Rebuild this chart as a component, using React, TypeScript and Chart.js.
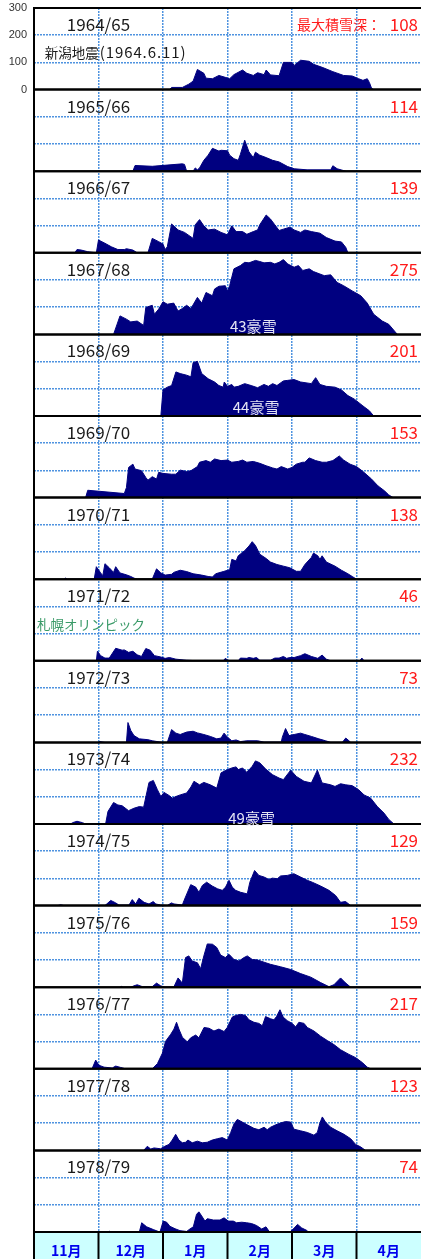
import React, { useEffect, useRef } from 'react';
import { Chart, registerables } from 'chart.js';

Chart.register(...registerables);

// Season labels, maximum snow depth (cm), month labels, y tick values
const seasons = ['1964/65', '1965/66', '1966/67', '1967/68', '1968/69', '1969/70', '1970/71', '1971/72', '1972/73', '1973/74', '1974/75', '1975/76', '1976/77', '1977/78', '1978/79'];
const maxDepths = [108, 114, 139, 275, 201, 153, 138, 46, 73, 232, 129, 159, 217, 123, 74];
const months = ['11月', '12月', '1月', '2月', '3月', '4月'];
const yTickValues = [0, 100, 200, 300];

// Daily snow depth: [day since Nov 1 (30-day months), depth cm]
const s1964 = [[63,0],[64,8],[69,8],[72,20],[74,31],[76,74],[79,60],[80,42],[83,40],[86,52],[89,45],[91,40],[93,55],[97,72],[99,60],[102,52],[104,62],[107,55],[108,72],[110,54],[114,51],[116,100],[120,100],[121,89],[124,108],[128,104],[130,93],[134,82],[139,66],[144,52],[148,50],[151,40],[153,34],[155,40],[156,26],[157,5],[158,0]];
const s1965 = [[46,0],[47,21],[55,18],[69,27],[70,25],[71,0],[74,0],[75,12],[76,5],[77,12],[79,40],[81,59],[83,84],[86,74],[87,77],[90,75],[91,59],[93,46],[95,40],[96,62],[98,114],[100,71],[102,50],[103,70],[105,59],[108,50],[111,40],[114,34],[118,17],[121,9],[127,5],[138,5],[139,20],[141,9],[145,0]];
const s1966 = [[19,0],[20,12],[22,10],[25,4],[29,0],[30,47],[33,35],[36,22],[39,12],[42,12],[43,15],[46,10],[48,0],[53,0],[55,53],[58,41],[60,32],[61,12],[62,22],[64,106],[67,84],[70,75],[74,53],[75,103],[77,122],[79,99],[81,84],[84,87],[87,75],[90,66],[92,99],[94,78],[97,78],[99,68],[102,78],[104,84],[105,103],[108,139],[110,124],[112,103],[114,82],[116,87],[119,94],[121,84],[124,75],[126,84],[129,78],[133,72],[136,56],[140,43],[143,40],[145,20],[146,0]];
const s1967 = [[37,0],[40,68],[43,56],[45,46],[48,49],[51,33],[52,99],[55,107],[56,74],[58,93],[60,120],[62,111],[65,115],[67,86],[69,95],[71,107],[73,95],[76,136],[78,115],[80,154],[83,142],[84,167],[86,177],[89,179],[90,160],[91,179],[93,241],[96,253],[98,265],[100,263],[103,272],[105,268],[107,263],[110,265],[112,259],[114,265],[116,275],[118,259],[121,247],[123,253],[125,235],[128,241],[130,231],[133,222],[135,216],[138,219],[141,191],[144,179],[148,160],[152,142],[155,115],[158,74],[162,49],[165,37],[169,0]];
const s1968 = [[59,0],[60,96],[62,106],[64,112],[66,162],[68,156],[71,150],[73,144],[74,196],[76,201],[78,156],[81,137],[84,125],[86,112],[88,106],[88.5,125],[90,109],[92,116],[93,106],[95,109],[98,119],[101,112],[104,104],[107,116],[109,109],[111,119],[113,112],[116,129],[118,131],[121,134],[124,125],[129,119],[131,141],[133,116],[136,109],[140,106],[143,96],[146,75],[149,62],[153,37],[156,19],[158,0]];
const s1969 = [[24,0],[25,27],[42,15],[43,37],[44,111],[46,123],[47,105],[50,99],[52,74],[53,64],[55,77],[57,68],[58,93],[60,89],[64,86],[66,86],[68,101],[71,96],[73,99],[76,114],[77,130],[80,136],[82,130],[84,142],[87,136],[90,138],[92,130],[95,133],[97,138],[99,130],[102,133],[105,126],[108,117],[111,109],[113,105],[115,114],[118,105],[120,111],[122,123],[125,130],[126,130],[128,146],[131,136],[134,130],[136,130],[139,136],[142,153],[144,138],[147,123],[150,114],[153,96],[157,68],[160,43],[163,25],[165,10],[167,0]];
const s1970 = [[14,0],[14.7,4],[15.5,0],[28,0],[29,46],[31,23],[32,13],[33,57],[35,42],[37,25],[38,46],[40,23],[43,16],[45,10],[46.5,4],[48,0],[55,0],[57,38],[59,23],[61,15],[64,18],[65,25],[68,33],[71,28],[74,20],[78,15],[81,10],[83,8],[84.5,20],[88,28],[91,35],[92,73],[94,67],[95,86],[98,105],[100,122],[101.5,138],[103,124],[105,92],[108,76],[110,63],[113,54],[116,48],[119,42],[122,29],[124,29],[126,54],[129,80],[130,96],[132,86],[133,73],[134,86],[136,63],[140,48],[143,33],[146,20],[148,10],[150,0]];
const s1971 = [[29,0],[29.5,35],[31,19],[33,10],[35,10],[38,46],[41,39],[42,40],[44,31],[46,35],[48,22],[50,16],[52,45],[54,39],[56,19],[59,14],[61,9],[63,12],[66,6],[71,2],[77,0],[88,0],[89,9],[90.5,0],[95,0],[96,10],[99,9],[100,12],[102,9],[103.5,12],[105,2],[110,2],[112,10],[114,10],[116,16],[117.5,9],[119,12],[121,12],[124,19],[126,26],[129,16],[132,9],[134,21],[136,6],[138,0],[151.5,0],[152.5,10],[153.5,0]];
const s1972 = [[30,0],[30.5,3],[33,0],[43,0],[43.7,73],[45,44],[46.5,25],[49,13],[53,10],[55,6],[59.7,0],[62,0],[64,47],[66,34],[68,29],[71,38],[74,41],[76,35],[79,29],[82,22],[85,13],[87,16],[88.4,34],[90,19],[92,6],[94,9],[96,3],[99,6],[104,6],[107,1],[115,1],[115.5,19],[117,51],[118.6,25],[121,29],[124,34],[126,29],[129,22],[132.5,13],[135.6,6],[138,0],[143.4,0],[145,16],[146.5,6],[147.3,0]];
const s1973 = [[17,0],[18,5],[20,10],[22.5,5],[24,0],[33.3,0],[34.4,46],[37,79],[39,70],[41,67],[44,49],[46.5,58],[49,64],[51,62],[53.5,153],[55.5,160],[57.4,126],[59,101],[60.5,116],[63,104],[64.3,95],[66,101],[68,107],[71,114],[73,136],[74.4,157],[77,144],[79,153],[82,144],[85,132],[87,188],[90,200],[92,206],[94,210],[95,200],[97,206],[99,190],[101.5,212],[103,232],[105,225],[108,200],[111,181],[114,169],[116,163],[119.4,198],[122,175],[125.6,157],[129,151],[131.8,198],[134,151],[138,144],[140,138],[142.6,148],[145,144],[148,141],[151,126],[153.5,107],[156.6,95],[159.7,64],[162.8,40],[165,17],[167.4,0]];
const s1974 = [[11,0],[12.4,3],[14,0],[33,0],[35.7,19],[38,10],[39.5,2],[44.2,2],[45.7,22],[47.3,6],[48.8,27],[51.2,12],[53.5,6],[55.5,15],[56.6,6],[58.9,2],[62,0],[63.9,10],[65.1,6],[69,2],[69.8,19],[72.9,77],[75.2,68],[76.7,49],[78.3,74],[80.3,86],[82.9,72],[85.3,62],[87.6,56],[89.1,68],[90.7,93],[92.2,68],[93.8,56],[96.1,49],[99.2,43],[100.4,86],[102.6,129],[104.6,111],[107,105],[109.3,96],[110.8,101],[113.2,99],[114.7,109],[117.8,111],[120.9,117],[124,105],[127.1,93],[129.4,86],[133.3,72],[137.2,56],[140.3,37],[142.6,12],[144.9,15],[147.3,0]];
const s1975 = [[40,0],[40.6,3],[41.5,0],[45,0],[46.5,5],[48,9],[50.4,2],[55,2],[57,15],[58.9,5],[61,0],[65,0],[67,34],[69,15],[70.5,109],[72,115],[73.6,96],[76,90],[77.5,68],[79,115],[80.6,159],[83,158],[85,146],[86.8,118],[89,109],[90.7,121],[93,102],[95.3,96],[97.7,109],[99.2,115],[101.5,102],[104,100],[107,92],[110,84],[114.7,75],[119.4,65],[124,50],[128.7,37],[133.3,17],[137.2,2],[139.5,9],[142.6,34],[145,15],[147.3,0]];
const s1976 = [[27,0],[28.7,32],[30.2,13],[32.6,6],[36.4,3],[38,10],[40.3,5],[42.6,0],[55,0],[57.4,19],[59.7,57],[61.2,101],[63.6,127],[65.1,146],[66.3,171],[67.4,146],[69,116],[71.3,99],[72.9,114],[75.2,124],[76.7,114],[79.1,152],[81.4,149],[83.7,139],[86,146],[88.4,137],[89.9,152],[92.2,190],[93.8,196],[96.1,200],[98.4,196],[100,180],[102.3,171],[104.6,167],[106.2,158],[107.7,192],[110,184],[111.6,180],[112.8,192],[114.4,217],[115.9,190],[117.8,177],[120.1,167],[121.7,154],[123.2,171],[125.6,167],[127.1,152],[130.2,139],[133.3,120],[136.4,104],[139.5,89],[142.6,70],[146.5,53],[149.6,41],[152.7,23],[155,6],[156.6,0]];
const s1977 = [[51,0],[52.7,15],[54.3,5],[55.8,9],[58.9,6],[60.8,15],[62.8,22],[64.3,38],[65.9,59],[67.4,38],[69,28],[70.5,30],[71.6,38],[73.6,28],[76,34],[78.3,28],[80.6,30],[82.9,38],[85.3,43],[87.6,47],[89.9,38],[91.5,66],[93,97],[94.6,114],[96.9,104],[99.2,94],[102.3,81],[104.6,76],[107,85],[108.5,76],[110,85],[112.4,94],[114.7,101],[117,106],[119.4,104],[120.9,78],[124,72],[127.1,66],[130.2,56],[131.8,66],[133,101],[134.1,123],[135.6,104],[138,85],[141,72],[144.2,59],[147.3,43],[149.6,22],[151.9,13],[154.2,0]];
const s1978 = [[34.5,0],[35.3,3],[36,0],[49,0],[50.1,34],[52.4,19],[55.5,9],[57.8,2],[58.6,0],[60.1,40],[61.7,36],[63.2,21],[65.6,12],[67.9,5],[71,2],[72.5,11],[74.1,19],[75.6,65],[76.7,74],[78,59],[79.5,40],[80.6,49],[83.4,44],[86.5,44],[88.4,52],[90.4,40],[92.7,40],[94.2,34],[96.6,36],[98.9,34],[101.2,31],[103.5,24],[105.9,11],[107.9,19],[109.4,2],[110,0],[119,0],[120.6,11],[122.6,28],[124.5,15],[126.8,6],[127.6,0]];

const series = [s1964, s1965, s1966, s1967, s1968, s1969, s1970, s1971, s1972, s1973, s1974, s1975, s1976, s1977, s1978];

// Annotations
const notes = [
  { panel: 0, text: '新潟地震', sub: '(1964.6.11)' },
  { panel: 7, text: '札幌オリンピック', sub: '' },
  { panel: 3, text: '43豪雪', sub: '' },
  { panel: 4, text: '44豪雪', sub: '' },
  { panel: 9, text: '49豪雪', sub: '' },
];

const FONT = "'Noto Sans CJK JP', 'Noto Sans', sans-serif";
const GRID_BLUE = '#4f93e0';
const N = seasons.length;

const panelPlugin = {
  id: 'panelDecor',
  beforeDraw(chart: any) {
    const xs = chart.scales.x;
    const ctx = chart.ctx;
    ctx.save();
    ctx.fillStyle = '#ccffff';
    ctx.fillRect(xs.left, xs.top, xs.right - xs.left, xs.bottom - xs.top);
    ctx.restore();
  },
  afterDatasetsDraw(chart: any) {
    const ctx = chart.ctx;
    const xs = chart.scales.x;
    const area = chart.chartArea;
    const line = (x1: number, y1: number, x2: number, y2: number) => {
      ctx.beginPath();
      ctx.moveTo(x1, y1);
      ctx.lineTo(x2, y2);
      ctx.stroke();
    };
    ctx.save();
    ctx.strokeStyle = '#000';
    ctx.lineWidth = 2;
    for (let i = 0; i < N; i++) {
      const ys = chart.scales['y' + i];
      line(area.left, ys.top, area.right, ys.top);
      line(area.left, ys.bottom, area.right, ys.bottom);
    }
    line(area.left, area.top - 1, area.left, xs.bottom);
    for (let k = 1; k < months.length; k++) {
      const px = xs.getPixelForValue(k * 30);
      line(px, xs.top, px, xs.bottom);
    }

    // season labels and max depth
    ctx.textBaseline = 'middle';
    for (let i = 0; i < N; i++) {
      const ys = chart.scales['y' + i];
      const ty = ys.top + 16.5;
      ctx.font = `17px ${FONT}`;
      ctx.fillStyle = '#1a1a1a';
      ctx.textAlign = 'center';
      ctx.fillText(seasons[i], xs.getPixelForValue(30), ty);
      ctx.fillStyle = '#ff1a1a';
      ctx.textAlign = 'right';
      ctx.fillText(String(maxDepths[i]), area.right - 3, ty);
      if (i === 0) {
        ctx.font = `14px ${FONT}`;
        ctx.fillText('最大積雪深：', 381, ty);
      }
    }

    // annotations
    for (const n of notes) {
      const ys = chart.scales['y' + n.panel];
      if (n.panel === 0) {
        ctx.font = `13.5px ${FONT}`;
        ctx.fillStyle = '#1a1a1a';
        ctx.textAlign = 'left';
        const x0 = xs.getPixelForValue(5);
        const y0 = ys.getPixelForValue(136);
        ctx.fillText(n.text, x0, y0);
        const w = ctx.measureText(n.text).width;
        ctx.font = `15px ${FONT}`;
        try { (ctx as any).letterSpacing = '0.9px'; } catch (e) { /* ignore */ }
        ctx.fillText(n.sub, x0 + w + 1, y0);
        try { (ctx as any).letterSpacing = '0px'; } catch (e) { /* ignore */ }
      } else if (n.panel === 7) {
        ctx.font = `13.5px ${FONT}`;
        ctx.fillStyle = '#3a9a68';
        ctx.textAlign = 'left';
        ctx.fillText(n.text, xs.getPixelForValue(1.4), ys.getPixelForValue(131));
      } else {
        ctx.font = `15px ${FONT}`;
        ctx.fillStyle = '#e4e4f4';
        ctx.textAlign = 'center';
        const yv = n.panel === 9 ? 22 : 31;
        const xv = n.panel === 3 ? 102 : n.panel === 4 ? 103.3 : 101.2;
        ctx.fillText(n.text, xs.getPixelForValue(xv), ys.getPixelForValue(yv));
      }
    }
    ctx.restore();
  },
};

export default function App() {
  const ref = useRef<HTMLCanvasElement | null>(null);

  useEffect(() => {
    if (!ref.current) return;
    Chart.defaults.font.family = FONT;

    const scales: any = {
      x: {
        type: 'linear',
        position: 'bottom',
        min: 0,
        max: 180,
        afterFit: (s: any) => { s.height = 27; s.paddingLeft = 0; s.paddingRight = 0; },
        ticks: {
          stepSize: 15,
          autoSkip: false,
          maxRotation: 0,
          padding: 10,
          color: '#0000ee',
          font: { size: 14, weight: 'bold', family: FONT },
          callback: (v: any) => (v % 30 === 15 ? months[(v - 15) / 30] : ''),
        },
        grid: {
          drawTicks: false,
          lineWidth: 1.5,
          color: (c: any) => {
            const v = c.tick ? c.tick.value : -1;
            return v > 0 && v < 180 && v % 30 === 0 ? GRID_BLUE : 'rgba(0,0,0,0)';
          },
        },
        border: { display: false, dash: [2, 1] },
      },
    };

    for (let i = 0; i < N; i++) {
      scales['y' + i] = {
        type: 'linear',
        position: 'left',
        stack: 'panels',
        stackWeight: 1,
        weight: N - i,
        min: 0,
        max: 300,
        afterFit: (s: any) => { s.width = 34; s.paddingTop = 0; s.paddingBottom = 0; },
        afterBuildTicks: (s: any) => { s.ticks = yTickValues.map((v) => ({ value: v })); },
        ticks: {
          display: i === 0,
          autoSkip: false,
          padding: 7,
          color: '#333',
          font: { size: 11, family: "'Liberation Sans', Arial, sans-serif" },
        },
        grid: {
          drawTicks: false,
          lineWidth: 1.5,
          color: (c: any) => {
            const v = c.tick ? c.tick.value : -1;
            return v === 100 || v === 200 ? GRID_BLUE : 'rgba(0,0,0,0)';
          },
        },
        border: { display: false, dash: [2, 1] },
      };
    }

    const datasets = series.map((s, i) => ({
      label: seasons[i],
      data: s.map(([x, y]) => ({ x, y })),
      yAxisID: 'y' + i,
      xAxisID: 'x',
      fill: 'origin',
      backgroundColor: '#000080',
      borderColor: '#000080',
      borderWidth: 1,
      pointRadius: 0,
      tension: 0,
    }));

    const chart = new Chart(ref.current, {
      type: 'line',
      data: { datasets },
      options: {
        responsive: false,
        animation: false,
        devicePixelRatio: 1,
        layout: { padding: { top: 8, left: 0, right: 0, bottom: 0 } },
        plugins: { legend: { display: false }, tooltip: { enabled: false } },
        scales,
      },
      plugins: [panelPlugin],
    } as any);

    return () => chart.destroy();
  }, []);

  return (
    <div style={{ position: 'absolute', left: 0, top: 0, width: 421, height: 1259 }}>
      <canvas ref={ref} width={421} height={1259} style={{ display: 'block' }} />
    </div>
  );
}
